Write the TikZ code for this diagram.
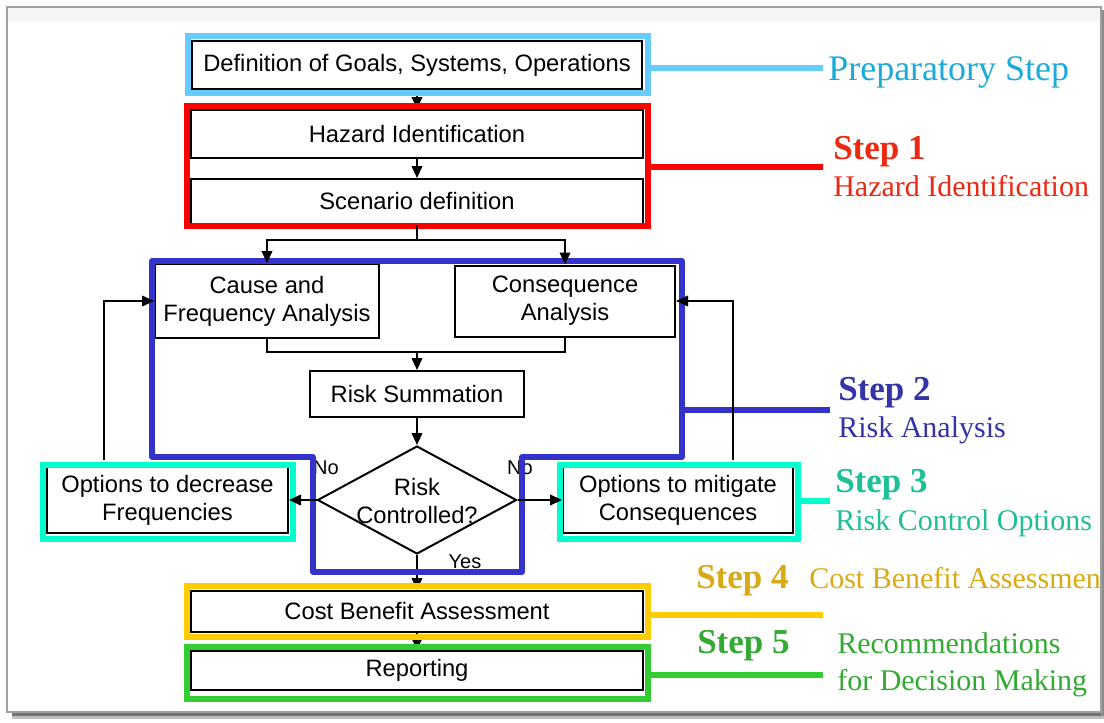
\documentclass[tikz,border=0pt]{standalone}
\usepackage{fontspec}
\setmainfont{Liberation Serif}
\setsansfont{Liberation Sans}
\usetikzlibrary{arrows.meta,shapes.geometric}

\definecolor{prepblue}{HTML}{66CCFF}
\definecolor{preptext}{HTML}{1CAAD8}
\definecolor{hazred}{HTML}{FF0000}
\definecolor{haztext}{HTML}{EA2A12}
\definecolor{riskblue}{HTML}{3333CC}
\definecolor{risktext}{HTML}{3434A8}
\definecolor{ctrlcyan}{HTML}{00FFCC}
\definecolor{ctrltext}{HTML}{1FBF98}
\definecolor{cbyellow}{HTML}{FFCC00}
\definecolor{cbtext}{HTML}{D8AA16}
\definecolor{repgreen}{HTML}{33CC33}
\definecolor{reptext}{HTML}{33AA33}

\tikzset{
  flowbox/.style={draw=black, line width=1.5pt, fill=white, inner sep=0pt, align=center,
    font=\sffamily\fontsize{17.8}{21}\selectfont},
  arr/.style={line width=1.3pt, -{Triangle[length=9pt,width=8pt]}},
  plainline/.style={line width=1.3pt},
  stepframe/.style={line width=4.3pt},
  smalllabel/.style={font=\sffamily\fontsize{15}{18}\selectfont, inner sep=0pt},
  stephead/.style={anchor=base west, inner sep=0pt, font=\bfseries\fontsize{26.25}{30}\selectfont},
  stepsub/.style={anchor=base west, inner sep=0pt, font=\fontsize{22.5}{28}\selectfont},
}

\begin{document}
\begin{tikzpicture}[x=0.75pt,y=-0.75pt]
\useasboundingbox (0,0) rectangle (1104,722);
\fill[white] (0,0) rectangle (1104,722);

% page frame with its shadow
\fill[gray!7] (8,8) rectangle (1100,21);
\fill[black!55] (12,712) rectangle (1104,716);
\fill[black!25] (12,716) rectangle (1104,719);
\fill[black!45] (1101,10) rectangle (1104,716);
\draw[gray!75, line width=0.8pt] (7,7) rectangle (1101,712);

% process boxes
\node[flowbox, minimum width=337.5pt, minimum height=36pt] (def) at (417,65) {Definition of Goals, Systems, Operations};
\node[flowbox, minimum width=339pt, minimum height=36pt] (haz) at (417,134) {Hazard Identification};
\node[flowbox, minimum width=339pt, minimum height=33.75pt] (scen) at (417,201.5) {Scenario definition};
\node[flowbox, minimum width=168pt, minimum height=55.5pt] (cause) at (267,301) {Cause and\\Frequency Analysis};
\node[flowbox, minimum width=165pt, minimum height=53.25pt] (conseq) at (565,301) {Consequence\\Analysis};
\node[flowbox, minimum width=160.5pt, minimum height=34.5pt] (sum) at (417,394) {Risk Summation};
\node[draw=black, line width=1.5pt, fill=white, shape=diamond, minimum width=149.25pt,
      minimum height=81pt, inner sep=0pt] (dec) at (417,500) {};
\node[flowbox, draw=none, fill=none] (dectext) at (417,501) {Risk\\Controlled?};
\node[flowbox, minimum width=180.75pt, minimum height=49.5pt] (optdec) at (167.5,500) {Options to decrease\\Frequencies};
\node[flowbox, minimum width=172.5pt, minimum height=49.5pt] (optmit) at (678,500) {Options to mitigate\\Consequences};
\node[flowbox, minimum width=339pt, minimum height=30.75pt] (cba) at (417,611.5) {Cost Benefit Assessment};
\node[flowbox, minimum width=339pt, minimum height=29.25pt] (rep) at (417,670.5) {Reporting};

% connectors lying under the step frames
\draw[arr] (def) -- (haz);
\draw[arr] (haz) -- (scen);
\draw[arr] (dec) -- (cba);
\draw[arr] (cba) -- (rep);

% decision labels
\node[smalllabel] (no1) at (326,468) {No};
\node[smalllabel] (no2) at (520,468) {No};
\node[smalllabel] (yes) at (465,562) {Yes};

% step frames
\draw[prepblue, stepframe] (188,36) rectangle (648,93);
\draw[hazred, stepframe] (187,106) rectangle (648,226);
\draw[riskblue, stepframe, line join=round] (152,261) -- (682,261) -- (682,457) -- (522,457)
  -- (522,572) -- (313,572) -- (313,457) -- (152,457) -- cycle;
\draw[ctrlcyan, stepframe] (43,465) rectangle (293,539);
\draw[ctrlcyan, stepframe] (560,465) rectangle (798,539);
\draw[cbyellow, stepframe] (187,586) rectangle (648,637);
\draw[repgreen, stepframe] (187,647) rectangle (648,699);

% leaders from the frames to the step captions
\draw[prepblue, stepframe] (648,68) -- (823,68);
\draw[hazred, stepframe] (648,167) -- (823,167);
\draw[riskblue, stepframe] (682,410) -- (830,410);
\draw[ctrlcyan, stepframe] (798,501) -- (830,501);
\draw[cbyellow, stepframe] (648,615) -- (823,615);
\draw[repgreen, stepframe] (648,675) -- (823,675);

% step captions
\node[stepsub, text=preptext, font=\fontsize{27}{30}\selectfont] (prep) at (828,80) {Preparatory Step};
\node[stephead, text=haztext] (s1) at (833,159) {Step 1};
\node[stepsub, text=haztext] (s1t) at (833,196) {Hazard Identification};
\node[stephead, text=risktext] (s2) at (838,400) {Step 2};
\node[stepsub, text=risktext] (s2t) at (838,437) {Risk Analysis};
\node[stephead, text=ctrltext] (s3) at (835,492) {Step 3};
\node[stepsub, text=ctrltext] (s3t) at (835,530) {Risk Control Options};
\node[stephead, text=cbtext] (s4) at (696,588) {Step 4};
\node[stepsub, text=cbtext] (s4t) at (809,588) {Cost Benefit Assessmen};
\node[stephead, text=reptext] (s5) at (697,653) {Step 5};
\node[stepsub, text=reptext] (s5t) at (837,653) {Recommendations};
\node[stepsub, text=reptext] (s5u) at (837,690) {for Decision Making};

% connectors drawn over the frames
\coordinate (sp) at (417,240);
\coordinate (jn) at (417,352);
\coordinate (fbl) at (104,460);
\coordinate (fbr) at (733,460);
\draw[plainline] (scen.south) -- (sp);
\draw[arr] (sp) -| (cause.north);
\draw[arr] (sp) -| (conseq.north);
\draw[plainline] (cause.south) |- (jn);
\draw[plainline] (conseq.south) |- (jn);
\draw[arr] (jn) -- (sum.north);
\draw[arr] (sum) -- (dec);
\draw[arr] (dec.west) -- (optdec.east);
\draw[arr] (dec.east) -- (optmit.west);
\draw[arr] (fbl) |- (cause.west);
\draw[arr] (fbr) |- (conseq.east);
\end{tikzpicture}
\end{document}
